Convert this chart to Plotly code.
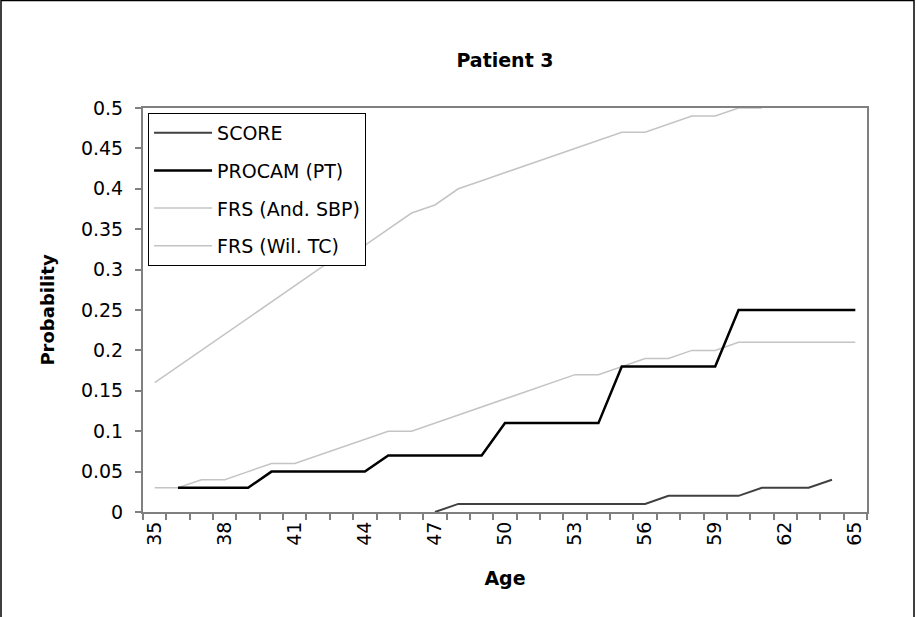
import plotly.graph_objects as go

ages = list(range(35, 66))
score = [None]*12 + [0.00, 0.01, 0.01, 0.01, 0.01, 0.01, 0.01, 0.01, 0.01, 0.01,
                     0.02, 0.02, 0.02, 0.02, 0.03, 0.03, 0.03, 0.04, None]
procam = [None, 0.03, 0.03, 0.03, 0.03, 0.05, 0.05, 0.05, 0.05, 0.05,
          0.07, 0.07, 0.07, 0.07, 0.07, 0.11, 0.11, 0.11, 0.11, 0.11,
          0.18, 0.18, 0.18, 0.18, 0.18, 0.25, 0.25, 0.25, 0.25, 0.25, 0.25]
frs_and = [0.03, 0.03, 0.04, 0.04, 0.05, 0.06, 0.06, 0.07, 0.08, 0.09,
           0.10, 0.10, 0.11, 0.12, 0.13, 0.14, 0.15, 0.16, 0.17, 0.17,
           0.18, 0.19, 0.19, 0.20, 0.20, 0.21, 0.21, 0.21, 0.21, 0.21, 0.21]
frs_wil = [0.16, 0.18, 0.20, 0.22, 0.24, 0.26, 0.28, 0.30, 0.32, 0.33,
           0.35, 0.37, 0.38, 0.40, 0.41, 0.42, 0.43, 0.44, 0.45, 0.46,
           0.47, 0.47, 0.48, 0.49, 0.49, 0.50, 0.50, None, None, None, None]
x_labels = list(range(35, 66, 3))

FONT = "DejaVu Sans"

fig = go.Figure()
fig.add_trace(go.Scatter(x=ages, y=frs_wil, mode="lines", name="FRS (Wil. TC)",
                         line=dict(color="#c4c4c4", width=1.5), legendrank=4, legendgroup="d"))
fig.add_trace(go.Scatter(x=ages, y=frs_and, mode="lines", name="FRS (And. SBP)",
                         line=dict(color="#c4c4c4", width=1.5), legendrank=3, legendgroup="c"))
fig.add_trace(go.Scatter(x=ages, y=score, mode="lines", name="SCORE",
                         line=dict(color="#404040", width=2), legendrank=1, legendgroup="a"))
fig.add_trace(go.Scatter(x=ages, y=procam, mode="lines", name="PROCAM (PT)",
                         line=dict(color="#000000", width=2.5), legendrank=2, legendgroup="b"))

fig.update_layout(
    width=917, height=617,
    margin=dict(l=143, r=50, t=108, b=105),
    paper_bgcolor="white", plot_bgcolor="white",
    font=dict(family=FONT, size=19, color="black"),
    title=dict(text="<b>Patient 3</b>", x=0.5, xref="paper", xanchor="center",
               y=0.902, yanchor="middle", font=dict(size=19, family=FONT)),
    showlegend=True,
    legend=dict(x=0.007, y=0.988, xanchor="left", yanchor="top",
                bgcolor="white", bordercolor="black", borderwidth=1,
                font=dict(size=19, family=FONT), traceorder="grouped",
                tracegroupgap=10, itemwidth=58),
    xaxis=dict(range=[34.5, 65.5], tickmode="array", tickvals=x_labels,
               ticktext=[str(v) for v in x_labels], tickangle=-90,
               ticks="", showgrid=False, zeroline=False,
               showline=True, linecolor="#808080", linewidth=2, mirror=True,
               minor=dict(tickmode="array", tickvals=[a - 0.5 for a in ages] + [65.5],
                          ticks="outside", ticklen=6, tickcolor="#808080", tickwidth=1.5,
                          showgrid=False),
               title=dict(text="<b>Age</b>", font=dict(size=19, family=FONT), standoff=27)),
    yaxis=dict(range=[0, 0.5], tick0=0, dtick=0.05, ticks="outside", ticklen=6,
               tickcolor="#808080", tickwidth=1.5, showgrid=False, zeroline=False,
               showline=True, linecolor="#808080", linewidth=2, mirror=True,
               ticklabelstandoff=8,
               title=dict(text="<b>Probability</b>", font=dict(size=18, family=FONT), standoff=22)),
    shapes=[dict(type="rect", xref="paper", yref="paper",
                 x0=(1 - 143) / 724, x1=(914 - 143) / 724,
                 y0=(512 - 625) / 404, y1=(512 - 0.5) / 404,
                 line=dict(color="black", width=1.5), fillcolor="rgba(0,0,0,0)",
                 layer="below")],
)

fig.write_html("out.html", config={"displayModeBar": False},
               post_script="document.body.style.margin='0px';")
